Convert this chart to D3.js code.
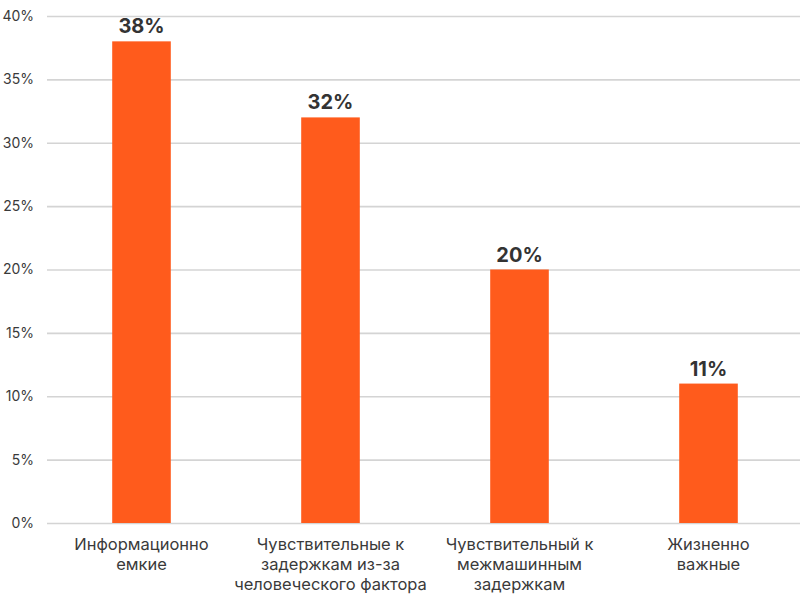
<!DOCTYPE html>
<html>
<head>
<meta charset="utf-8">
<script src="https://cdn.jsdelivr.net/npm/d3@7"></script>
<style>
  body { margin: 0; background: #fff; }
  svg { display: block; font-family: Inter, "Noto Sans", sans-serif; }
</style>
</head>
<body>
<div id="chart"></div>
<script>
var categories = [
    ["Информационно", "емкие"],
    ["Чувствительные к", "задержкам из-за", "человеческого фактора"],
    ["Чувствительный к", "межмашинным", "задержкам"],
    ["Жизненно", "важные"]
];
var values = [38, 32, 20, 11];
var yTicks = [0, 5, 10, 15, 20, 25, 30, 35, 40];

var width = 800, height = 600;
var margin = { top: 16, left: 47, right: -3, bottom: 77 };

var svg = d3.select("#chart").append("svg")
    .attr("width", width)
    .attr("height", height);

var x = d3.scaleBand()
    .domain(d3.range(values.length))
    .range([margin.left, width - margin.right])
    .paddingInner(0.69)
    .paddingOuter(0.345);

var y = d3.scaleLinear()
    .domain([0, 40])
    .range([height - margin.bottom, margin.top]);

// grid + y labels
var yAxis = svg.append("g")
    .attr("transform", "translate(" + margin.left + ",0)")
    .call(d3.axisLeft(y).tickValues(yTicks)
        .tickSize(-(800 - margin.left))
        .tickPadding(13)
        .tickFormat(function (d) { return d + "%"; }));
yAxis.select(".domain").remove();
yAxis.selectAll("line").attr("stroke", "#d4d4d4").attr("stroke-width", 1.6);
yAxis.selectAll("text")
    .attr("fill", "#3a3a3a")
    .style("font-size", "14px")
    .style("font-family", "Inter, sans-serif");

// bars
svg.append("g").selectAll("rect")
    .data(values)
    .enter().append("rect")
    .attr("x", function (d, i) { return x(i); })
    .attr("y", function (d) { return y(d); })
    .attr("width", x.bandwidth())
    .attr("height", function (d) { return y(0) - y(d); })
    .attr("fill", "#ff5b1c");

// value labels
svg.append("g").selectAll("text")
    .data(values)
    .enter().append("text")
    .attr("x", function (d, i) { return x(i) + x.bandwidth() / 2; })
    .attr("y", function (d) { return y(d) - 8; })
    .attr("text-anchor", "middle")
    .attr("fill", "#333")
    .style("font-size", "20px")
    .style("font-weight", "700")
    .text(function (d) { return d + "%"; });

// category labels
var cat = svg.append("g").selectAll("text")
    .data(categories)
    .enter().append("text")
    .attr("text-anchor", "middle")
    .attr("fill", "#3a3a3a")
    .style("font-size", "16.5px")
    .attr("transform", function (d, i) {
        return "translate(" + (x(i) + x.bandwidth() / 2) + "," + (y(0) + 27) + ")";
    });
cat.selectAll("tspan")
    .data(function (d) { return d; })
    .enter().append("tspan")
    .attr("x", 0)
    .attr("dy", function (d, j) { return j === 0 ? 0 : 20; })
    .text(function (d) { return d; });
</script>
</body>
</html>
